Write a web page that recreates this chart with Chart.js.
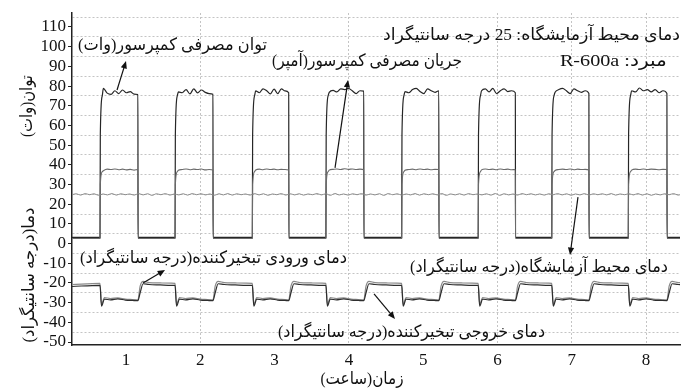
<!DOCTYPE html>
<html>
<head>
<meta charset="utf-8">
<script src="https://cdn.jsdelivr.net/npm/chart.js"></script>
<style>
  html, body { margin: 0; padding: 0; background: #fff; }
  canvas { display: block; }
</style>
</head>
<body>
<canvas id="chart" width="691" height="390"></canvas>
<script>
// compressor cycles (hours)
const compressorOn  = [0.65, 1.66, 2.70, 3.69, 4.71, 5.74, 6.73, 7.76];
const compressorOff = [1.16, 2.17, 3.19, 4.20, 5.21, 6.24, 7.23, 8.28];

// power (W) while running, read across each on-period
const powerOn = [
  [78.8, 76.4, 75.8, 77.6, 76.2, 78.0, 76.6, 77.2, 75.9, 75.7],
  [77.0, 76.6, 78.2, 76.0, 78.6, 76.5, 78.0, 76.8, 76.2, 75.8],
  [77.5, 76.6, 78.6, 77.6, 76.0, 78.4, 76.2, 78.6, 77.5, 76.6],
  [76.8, 77.8, 77.0, 78.6, 78.2, 78.8, 77.6, 76.2, 77.6, 77.4],
  [77.2, 76.6, 78.2, 78.8, 77.2, 76.2, 78.6, 77.6, 76.8, 77.6],
  [77.6, 78.6, 77.0, 78.8, 76.2, 77.6, 78.6, 77.2, 77.6, 76.6],
  [76.8, 78.2, 78.8, 77.6, 76.2, 78.6, 77.6, 76.8, 77.6, 76.2],
  [77.6, 77.0, 79.0, 77.6, 78.2, 77.0, 78.2, 76.6, 77.6, 76.2]
];
const powerRise = [55, 75];
const powerOff = 3.1;

// current while running
const currentOn = [
  [37.0, 37.8, 37.6, 37.9, 37.5, 37.8, 37.4, 37.7, 37.3, 37.6],
  [37.2, 37.6, 37.9, 37.5, 37.8, 37.6, 37.9, 37.4, 37.6, 37.3],
  [37.4, 37.8, 37.5, 37.9, 37.6, 37.8, 37.5, 37.7, 37.6, 37.4],
  [37.3, 37.7, 37.9, 37.6, 38.0, 37.7, 37.9, 37.6, 37.8, 37.5],
  [37.2, 37.6, 37.8, 37.5, 37.9, 37.6, 37.8, 37.5, 37.7, 37.6],
  [37.4, 37.9, 37.6, 37.8, 37.5, 37.9, 37.6, 37.8, 37.5, 37.6],
  [37.1, 37.6, 37.8, 37.6, 37.9, 37.5, 37.8, 37.6, 37.7, 37.4],
  [37.3, 37.8, 37.6, 37.9, 37.6, 37.8, 37.7, 37.5, 37.7, 37.6]
];
const currentRise = [30, 36.5];
const currentOff = 2.6;

// laboratory ambient temperature, every 0.06 h from 0.27 h
const ambientStart = 0.27;
const ambientStep = 0.06;
const ambient = [
  24.7,25.3,24.6,25.4,24.8,25.3,24.5,25.2,24.7,25.4,24.6,25.3,24.8,25.2,24.6,25.4,24.7,25.3,24.5,25.3,
  24.8,25.4,24.6,25.2,24.7,25.3,24.6,25.4,24.8,25.3,24.7,25.2,24.5,25.3,24.7,25.4,24.6,25.3,24.8,25.2,
  24.6,25.4,24.7,25.3,24.5,25.2,24.8,25.4,24.6,25.3,24.7,25.3,24.6,25.2,24.8,25.4,24.7,25.3,24.5,25.4,
  24.7,25.2,24.6,25.3,24.8,25.4,24.6,25.2,24.7,25.3,24.5,25.4,24.8,25.3,24.6,25.2,24.7,25.4,24.6,25.3,
  24.8,25.3,24.7,25.4,24.5,25.2,24.7,25.3,24.6,25.4,24.8,25.2,24.7,25.3,24.6,25.4,24.5,25.3,24.7,25.2,
  24.6,25.4,24.8,25.3,24.7,25.2,24.6,25.3,24.8,25.4,24.7,25.3,24.5,25.2,24.7,25.4,24.6,25.3,24.8,25.3,
  24.7,25.4,24.6,25.2,24.8,25.3,24.7,25.4,24.6,25.3,24.5,25.2,24.7,25.3,24.8,25.4,24.6,25.3
];

// evaporator temperatures: typical run and stop phases (hours after switch, deg C)
const evapStart = [-20.8, -21.8];            // inlet, outlet at the left edge
const coolT = [0, 0.02, 0.06, 0.14, 0.24, 0.34, 0.44];
const inletCool  = [-20.2, -30.8, -27.4, -27.9, -27.6, -28.2, -28.4];
const outletCool = [-21.2, -31.8, -28.2, -28.6, -28.1, -28.7, -28.9];
const warmT = [0, 0.03, 0.07, 0.15, 0.3, 0.45];
const inletWarm  = [-28.6, -21.6, -19.2, -19.8, -20.0, -20.1];
const outletWarm = [-29.0, -25.0, -20.4, -20.8, -21.0, -21.2];

const hourTicks = [1, 2, 3, 4, 5, 6, 7, 8];
const hourGrid = [2, 4, 6, 7, 8];
const yLabels = [-50, -40, -30, -20, -10, 0, 10, 20, 30, 40, 50, 60, 70, 80, 90, 100, 110];
const yGrid = [-45, -35, -25, -15, -5, 5, 15, 25, 35, 45, 55, 65, 75, 85, 95, 105, 115];

const X_MIN = 0.273, X_MAX = 8.456, Y_MIN = -51.52, Y_MAX = 117.1;

function squareWave(onVals, rise, off) {
  const pts = [{x: X_MIN, y: off}];
  compressorOn.forEach((t0, i) => {
    const t1 = compressorOff[i];
    const vals = onVals[i];
    pts.push({x: t0, y: off});
    pts.push({x: t0 + 0.004, y: rise[0]});
    pts.push({x: t0 + 0.03, y: rise[1]});
    vals.forEach((v, k) => {
      pts.push({x: t0 + 0.045 + k * (t1 - t0 - 0.045) / (vals.length - 1), y: v});
    });
    pts.push({x: t1 + 0.002, y: off});
  });
  pts.push({x: X_MAX + 0.1, y: off});
  return pts;
}

function evapSeries(start, cool, warm) {
  const pts = [{x: X_MIN, y: start}];
  compressorOn.forEach((t0, i) => {
    const t1 = compressorOff[i];
    const next = i + 1 < compressorOn.length ? compressorOn[i + 1] : X_MAX + 0.3;
    coolT.forEach((dt, k) => { if (t0 + dt < t1) pts.push({x: t0 + dt, y: cool[k]}); });
    warmT.forEach((dt, k) => { if (t1 + dt < next) pts.push({x: t1 + dt, y: warm[k]}); });
  });
  return pts;
}

const ambientPts = ambient.map((v, i) => ({x: ambientStart + i * ambientStep, y: v}));

// annotations: right edge in hours, centre in deg/W, width in px
const notes = [
  {text: 'توان مصرفی کمپرسور(وات)', hour: 2.898, value: 100.8, width: 189},
  {text: 'جریان مصرفی کمپرسور(آمپر)', hour: 5.522, value: 92.2, width: 190},
  {text: 'دمای محیط آزمایشگاه: 25 درجه سانتیگراد', hour: 8.456, value: 105.9, width: 297},
  {text: 'مبرد: R-600a', hour: 8.28, value: 92.7, width: 107},
  {text: 'دمای ورودی تبخیرکننده(درجه سانتیگراد)', hour: 3.974, value: -7.85, width: 267},
  {text: 'دمای محیط آزمایشگاه(درجه سانتیگراد)', hour: 8.295, value: -12.4, width: 258},
  {text: 'دمای خروجی تبخیرکننده(درجه سانتیگراد)', hour: 6.639, value: -45.4, width: 267}
];
const arrows = [
  {from: [0.879, 78.0], to: [1.0, 92.7]},
  {from: [3.813, 38.4], to: [3.988, 83.1]},
  {from: [7.083, 23.6], to: [6.976, -5.8]},
  {from: [1.229, -20.0], to: [1.525, -13.4]},
  {from: [4.338, -25.6], to: [4.620, -38.3]}
];

const FONT = "'Liberation Serif', 'DejaVu Sans', serif";

function drawText(ctx, text, cx, cy, width, size, angle) {
  ctx.save();
  ctx.font = size + 'px ' + FONT;
  ctx.direction = 'rtl';
  ctx.textAlign = 'center';
  ctx.textBaseline = 'middle';
  const w = ctx.measureText(text).width;
  ctx.translate(cx, cy);
  if (angle) ctx.rotate(angle);
  ctx.scale(width / w, 1);
  ctx.fillText(text, 0, 0);
  ctx.restore();
}

const overlay = {
  id: 'overlay',
  beforeDraw(chart) {
    const c = chart.ctx;
    c.save();
    c.fillStyle = '#fff';
    c.fillRect(0, 0, chart.width, chart.height);
    c.restore();
  },
  afterDraw(chart) {
    const ctx = chart.ctx;
    const xs = chart.scales.x, ys = chart.scales.y;
    ctx.save();
    ctx.fillStyle = '#111';
    ctx.strokeStyle = '#111';
    notes.forEach(n => {
      const px = xs.getPixelForValue(n.hour) - n.width / 2;
      drawText(ctx, n.text, px, ys.getPixelForValue(n.value), n.width, 17);
    });
    arrows.forEach(a => {
      const x1 = xs.getPixelForValue(a.from[0]), y1 = ys.getPixelForValue(a.from[1]);
      const x2 = xs.getPixelForValue(a.to[0]), y2 = ys.getPixelForValue(a.to[1]);
      const ang = Math.atan2(y2 - y1, x2 - x1);
      ctx.lineWidth = 1.2;
      ctx.beginPath();
      ctx.moveTo(x1, y1);
      ctx.lineTo(x2 - 4 * Math.cos(ang), y2 - 4 * Math.sin(ang));
      ctx.stroke();
      ctx.beginPath();
      ctx.moveTo(x2, y2);
      ctx.lineTo(x2 - 8 * Math.cos(ang - 0.4), y2 - 8 * Math.sin(ang - 0.4));
      ctx.lineTo(x2 - 8 * Math.cos(ang + 0.4), y2 - 8 * Math.sin(ang + 0.4));
      ctx.closePath();
      ctx.fill();
    });
    // axis titles
    drawText(ctx, 'توان(وات)', 28, 106, 62, 17, -Math.PI / 2);
    drawText(ctx, 'دما(درجه سانتیگراد)', 30, 275, 135, 17, -Math.PI / 2);
    drawText(ctx, 'زمان(ساعت)', 362, 380, 83, 17);
    ctx.restore();
  }
};

function line(label, data, color, width) {
  return {
    label, data,
    borderColor: color,
    borderWidth: width,
    pointRadius: 0,
    fill: false,
    cubicInterpolationMode: 'monotone'
  };
}

new Chart(document.getElementById('chart'), {
  type: 'line',
  data: {
    datasets: [
      line('outlet', evapSeries(evapStart[1], outletCool, outletWarm), '#2e2e2e', 1.2),
      line('inlet', evapSeries(evapStart[0], inletCool, inletWarm), '#8a8a8a', 1.2),
      Object.assign(line('ambient', ambientPts, '#8c8c8c', 1), {cubicInterpolationMode: 'default', tension: 0.4}),
      line('current', squareWave(currentOn, currentRise, currentOff), '#6a6a6a', 1.1),
      line('power', squareWave(powerOn, powerRise, powerOff), '#262626', 1.2)
    ]
  },
  options: {
    responsive: false,
    animation: false,
    events: [],
    layout: {padding: {left: 0, right: 11, top: 13, bottom: 0}},
    plugins: {legend: {display: false}, tooltip: {enabled: false}},
    scales: {
      x: {
        type: 'linear',
        min: X_MIN,
        max: X_MAX,
        afterBuildTicks: s => { s.ticks = hourTicks.map(v => ({value: v})); },
        afterFit: s => { s.height = 45; },
        grid: {
          color: c => (c.tick && hourGrid.includes(c.tick.value)) ? '#c4c4c4' : 'rgba(0,0,0,0)',
          drawTicks: false,
          lineWidth: 1
        },
        border: {color: '#222', width: 1.5, dash: [2, 2]},
        ticks: {
          autoSkip: false,
          maxRotation: 0,
          padding: 5,
          color: '#111',
          font: {family: FONT, size: 17},
          callback: v => String(v)
        }
      },
      y: {
        min: Y_MIN,
        max: Y_MAX,
        afterBuildTicks: s => {
          s.ticks = yLabels.concat(yGrid).sort((a, b) => a - b).map(v => ({value: v}));
        },
        afterFit: s => { s.width = 72; },
        grid: {
          color: c => (c.tick && yGrid.includes(c.tick.value)) ? '#c4c4c4' : 'rgba(0,0,0,0)',
          tickColor: c => (c.tick && yLabels.includes(c.tick.value)) ? '#222' : 'rgba(0,0,0,0)',
          tickLength: 4,
          lineWidth: 1
        },
        border: {color: '#222', width: 1.5, dash: [2, 2]},
        ticks: {
          autoSkip: false,
          padding: 2,
          color: '#111',
          font: {family: FONT, size: 17},
          callback: v => yLabels.includes(v) ? String(v) : ''
        }
      }
    }
  },
  plugins: [overlay]
});
</script>
</body>
</html>
